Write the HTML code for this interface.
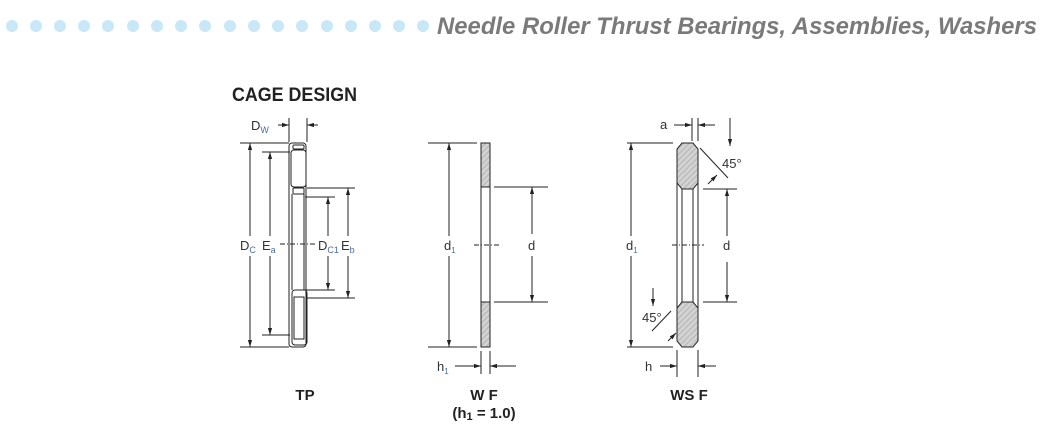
<!DOCTYPE html>
<html><head><meta charset="utf-8"><style>
html,body{margin:0;padding:0;background:#fff;}
svg{display:block;}
text{font-family:"Liberation Sans",sans-serif;}
</style></head><body>
<svg width="1047" height="429" viewBox="0 0 1047 429" xmlns="http://www.w3.org/2000/svg">
<defs>
<pattern id="h" width="4" height="4" patternUnits="userSpaceOnUse" patternTransform="rotate(45)">
<rect width="4" height="4" fill="#d4d4d4"/><rect width="1.6" height="4" fill="#bdbdbd"/></pattern>
<marker id="a" viewBox="0 0 10 10" refX="10" refY="5" markerWidth="7" markerHeight="7" orient="auto-start-reverse"><path d="M0,2 L10,5 L0,8z" fill="#222"/></marker>
</defs>
<g fill="#c8e8f8">
<circle cx="12" cy="26" r="6"/><circle cx="36" cy="26" r="6"/><circle cx="60" cy="26" r="6"/><circle cx="84" cy="26" r="6"/><circle cx="108" cy="26" r="6"/><circle cx="133" cy="26" r="6"/><circle cx="157" cy="26" r="6"/><circle cx="181" cy="26" r="6"/><circle cx="205" cy="26" r="6"/><circle cx="230" cy="26" r="6"/><circle cx="254" cy="26" r="6"/><circle cx="278" cy="26" r="6"/><circle cx="302" cy="26" r="6"/><circle cx="327" cy="26" r="6"/><circle cx="351" cy="26" r="6"/><circle cx="375" cy="26" r="6"/><circle cx="399" cy="26" r="6"/><circle cx="423" cy="26" r="6"/>
</g>
<text x="1037" y="34" text-anchor="end" font-size="24" font-weight="bold" font-style="italic" fill="#7a7a7a" textLength="600" lengthAdjust="spacingAndGlyphs">Needle Roller Thrust Bearings, Assemblies, Washers</text>
<text x="232" y="101" font-size="19" font-weight="bold" fill="#222" textLength="125" lengthAdjust="spacingAndGlyphs">CAGE DESIGN</text>

<g stroke="#222" stroke-width="1" fill="none">
<!-- TP -->
<line x1="289" y1="118" x2="289" y2="142"/><line x1="307" y1="118" x2="307" y2="142"/>
<line x1="278" y1="125" x2="289" y2="125" marker-end="url(#a)"/><line x1="318" y1="125" x2="307" y2="125" marker-end="url(#a)"/>
<rect x="289" y="143" width="17" height="204" rx="3"/>
<rect x="291" y="150" width="15" height="37" rx="3"/>
<rect x="293" y="145" width="11" height="4" rx="1"/>
<rect x="293" y="188" width="11" height="6" rx="1"/>
<line x1="292" y1="194" x2="292" y2="290"/><line x1="304" y1="194" x2="304" y2="290"/>
<rect x="292" y="290" width="15" height="55" rx="3"/>
<rect x="294" y="297" width="10" height="42"/>
<line x1="240" y1="143" x2="289" y2="143"/><line x1="240" y1="347" x2="289" y2="347"/>
<line x1="262" y1="152" x2="290" y2="152"/><line x1="262" y1="335" x2="290" y2="335"/>
<line x1="307" y1="188" x2="355" y2="188"/><line x1="307" y1="298" x2="355" y2="298"/>
<line x1="305" y1="197" x2="335" y2="197"/><line x1="305" y1="290" x2="335" y2="290"/>
<line x1="250" y1="236" x2="250" y2="143" marker-end="url(#a)"/><line x1="250" y1="256" x2="250" y2="347" marker-end="url(#a)"/>
<line x1="270" y1="236" x2="270" y2="152" marker-end="url(#a)"/><line x1="270" y1="256" x2="270" y2="335" marker-end="url(#a)"/>
<line x1="328" y1="236" x2="328" y2="197" marker-end="url(#a)"/><line x1="328" y1="256" x2="328" y2="290" marker-end="url(#a)"/>
<line x1="348" y1="236" x2="348" y2="188" marker-end="url(#a)"/><line x1="348" y1="256" x2="348" y2="298" marker-end="url(#a)"/>
<line x1="280" y1="244" x2="316" y2="244" stroke-dasharray="5,2,1,2"/>
<!-- WF -->
<rect x="481" y="143" width="9" height="44" fill="url(#h)"/><rect x="481" y="302" width="9" height="45" fill="url(#h)"/>
<rect x="481" y="143" width="9" height="204"/>
<line x1="481" y1="187" x2="490" y2="187"/><line x1="481" y1="302" x2="490" y2="302"/>
<line x1="428" y1="143" x2="477" y2="143"/><line x1="428" y1="347" x2="477" y2="347"/>
<line x1="494" y1="187" x2="548" y2="187"/><line x1="494" y1="302" x2="548" y2="302"/>
<line x1="449" y1="236" x2="449" y2="143" marker-end="url(#a)"/><line x1="449" y1="256" x2="449" y2="347" marker-end="url(#a)"/>
<line x1="532" y1="234" x2="532" y2="187" marker-end="url(#a)"/><line x1="532" y1="256" x2="532" y2="302" marker-end="url(#a)"/>
<line x1="474" y1="245" x2="500" y2="245" stroke-dasharray="5,2,1,2"/>
<line x1="481" y1="351" x2="481" y2="374"/><line x1="490" y1="351" x2="490" y2="374"/>
<line x1="455" y1="366" x2="481" y2="366" marker-end="url(#a)"/><line x1="516" y1="366" x2="490" y2="366" marker-end="url(#a)"/>
<!-- WS F -->
<path d="M682,143 L693,143 L698,149 L698,183 L693,189 L682,189 L677,183 L677,149Z" fill="url(#h)"/>
<path d="M682,302 L693,302 L698,308 L698,341 L693,347 L682,347 L677,341 L677,308Z" fill="url(#h)"/>
<line x1="677" y1="183" x2="677" y2="308"/><line x1="698" y1="183" x2="698" y2="308"/>
<line x1="682" y1="189" x2="682" y2="302"/><line x1="693" y1="189" x2="693" y2="302"/>
<line x1="692" y1="118" x2="692" y2="141"/><line x1="698" y1="118" x2="698" y2="141"/>
<line x1="674" y1="125" x2="692" y2="125" marker-end="url(#a)"/><line x1="715" y1="125" x2="698" y2="125" marker-end="url(#a)"/>
<line x1="627" y1="143" x2="673" y2="143"/><line x1="627" y1="347" x2="673" y2="347"/>
<line x1="703" y1="189" x2="737" y2="189"/><line x1="703" y1="302" x2="737" y2="302"/>
<line x1="631" y1="236" x2="631" y2="143" marker-end="url(#a)"/><line x1="631" y1="256" x2="631" y2="347" marker-end="url(#a)"/>
<line x1="727" y1="236" x2="727" y2="189" marker-end="url(#a)"/><line x1="727" y1="262" x2="727" y2="302" marker-end="url(#a)"/>
<line x1="672" y1="245" x2="704" y2="245" stroke-dasharray="5,2,1,2"/>
<line x1="730" y1="118" x2="730" y2="146" marker-end="url(#a)"/>
<line x1="700" y1="148" x2="728" y2="178"/>
<line x1="708" y1="184" x2="717" y2="175" marker-end="url(#a)"/>
<line x1="653" y1="288" x2="653" y2="306" marker-end="url(#a)"/>
<line x1="671" y1="311" x2="652" y2="331"/>
<line x1="668" y1="341" x2="676" y2="333" marker-end="url(#a)"/>
<line x1="677" y1="350" x2="677" y2="377"/><line x1="698" y1="350" x2="698" y2="377"/>
<line x1="660" y1="366" x2="677" y2="366" marker-end="url(#a)"/><line x1="716" y1="366" x2="698" y2="366" marker-end="url(#a)"/>
</g>

<g font-size="13" fill="#333">
<text x="251" y="130">D<tspan font-size="9" dy="3" fill="#4a6fa5">W</tspan></text>
<text x="240" y="250">D<tspan font-size="9" dy="3" fill="#4a6fa5">C</tspan></text>
<text x="262" y="250">E<tspan font-size="9" dy="3" fill="#4a6fa5">a</tspan></text>
<text x="318" y="250">D<tspan font-size="9" dy="3" fill="#4a6fa5">C1</tspan></text>
<text x="341" y="250">E<tspan font-size="9" dy="3" fill="#4a6fa5">b</tspan></text>
<text x="444" y="250">d<tspan font-size="8" dy="3" fill="#4a6fa5">1</tspan></text>
<text x="528" y="250">d</text>
<text x="437" y="371">h<tspan font-size="8" dy="3" fill="#4a6fa5">1</tspan></text>
<text x="626" y="250">d<tspan font-size="8" dy="3" fill="#4a6fa5">1</tspan></text>
<text x="723" y="250">d</text>
<text x="660" y="129">a</text>
<text x="722" y="168">45°</text>
<text x="642" y="322">45°</text>
<text x="645" y="371">h</text>
</g>
<g font-size="15" font-weight="bold" fill="#222" text-anchor="middle">
<text x="305" y="400">TP</text>
<text x="484" y="400">W F</text>
<text x="484" y="418">(h<tspan font-size="11" dy="2">1</tspan><tspan dy="-2"> = 1.0)</tspan></text>
<text x="689" y="400">WS F</text>
</g>
</svg>
</body></html>
